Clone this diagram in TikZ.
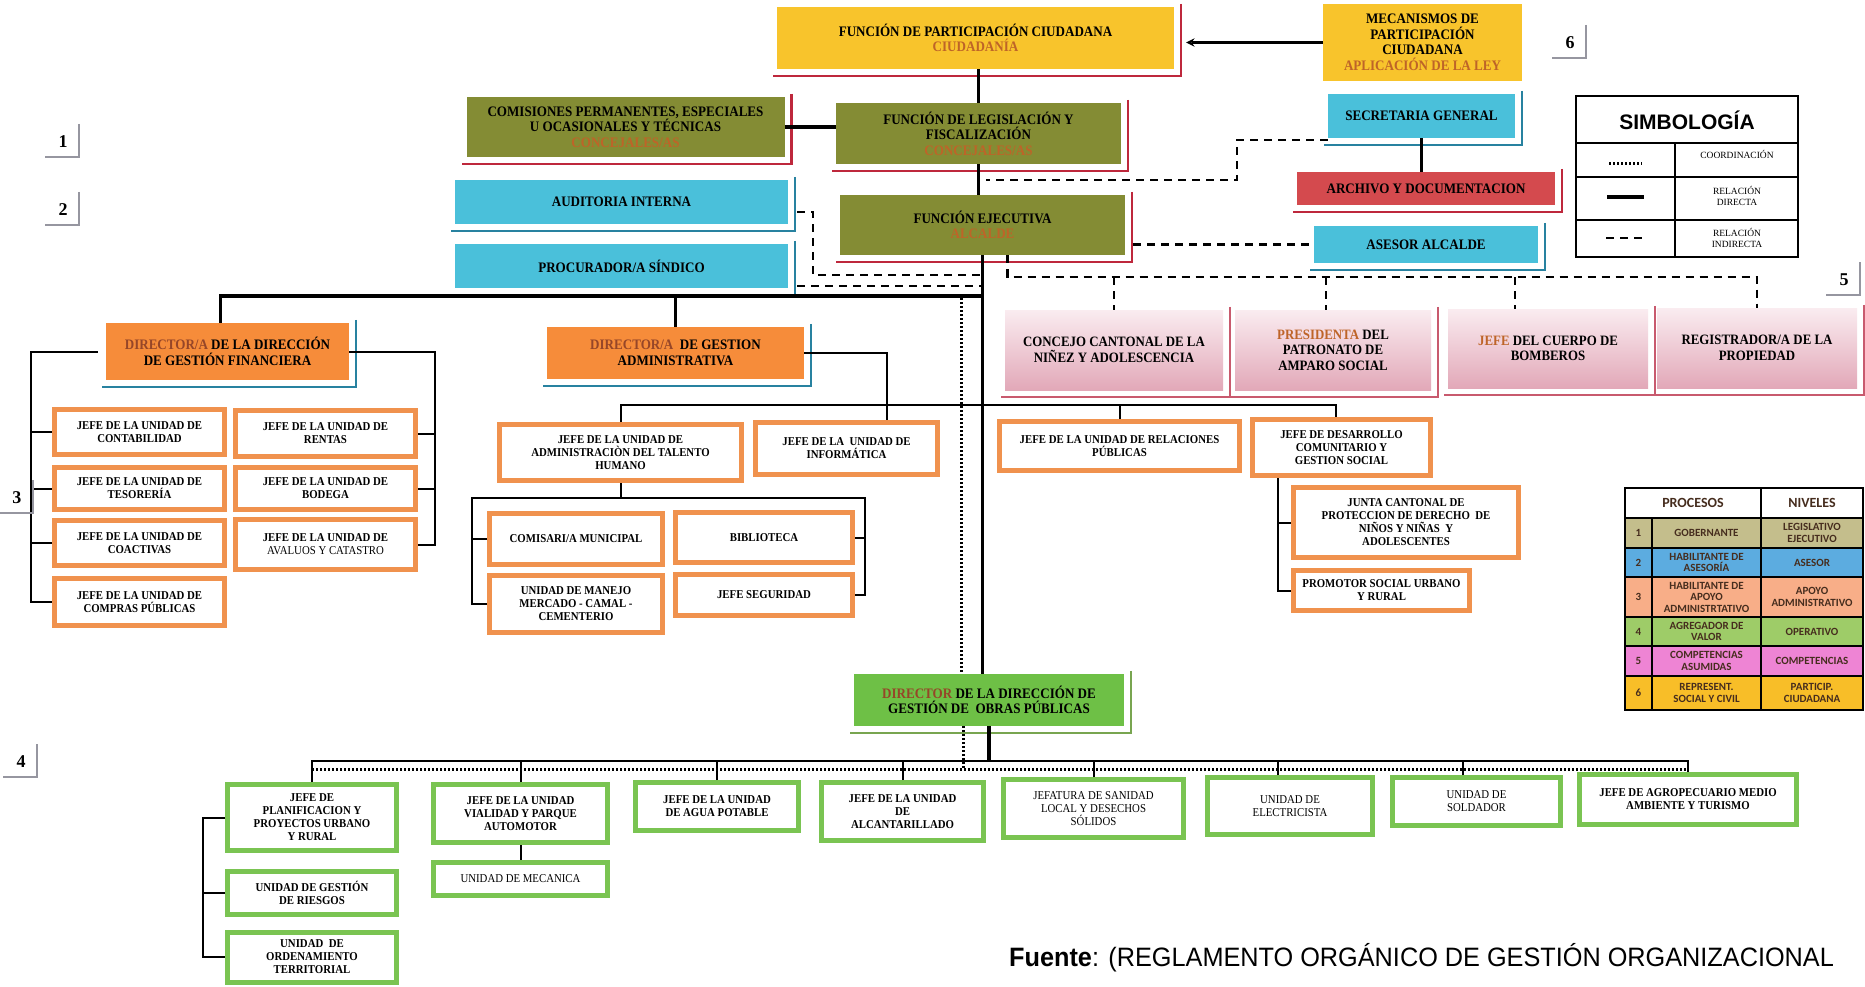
\documentclass[tikz,border=0pt]{standalone}
\usepackage{fontspec}
\usepackage{tikz}
\usepackage{xcolor}
\setmainfont{Liberation Serif}
\newfontfamily\cajafont[FakeStretch=0.9]{Liberation Serif}
\newfontfamily\tablafont{Carlito}
\newfontfamily\sansfont{Liberation Sans}
\newfontfamily\fuentefont[FakeStretch=0.95]{Liberation Sans}
\usetikzlibrary{arrows}
\definecolor{amarillo}{RGB}{248, 196, 44}
\definecolor{olivo}{RGB}{132, 140, 52}
\definecolor{cian}{RGB}{74, 192, 218}
\definecolor{rojo}{RGB}{212, 74, 78}
\definecolor{naranja}{RGB}{246, 140, 58}
\definecolor{verde}{RGB}{110, 192, 70}
\definecolor{bordenar}{RGB}{240, 146, 78}
\definecolor{bordever}{RGB}{122, 196, 82}
\definecolor{rosaA}{RGB}{250, 236, 240}
\definecolor{rosaB}{RGB}{226, 168, 184}
\definecolor{srojo}{RGB}{190, 40, 60}
\definecolor{scian}{RGB}{40, 130, 160}
\definecolor{sverde}{RGB}{120, 165, 80}
\definecolor{srosa}{RGB}{200, 90, 110}
\definecolor{cafe}{RGB}{190, 100, 40}
\definecolor{cafeo}{RGB}{150, 70, 40}
\definecolor{marcagris}{RGB}{150, 150, 160}
\definecolor{celdatxt}{RGB}{70, 45, 30}
\definecolor{pgob}{RGB}{196, 190, 140}
\definecolor{pase}{RGB}{92, 172, 224}
\definecolor{papo}{RGB}{248, 174, 136}
\definecolor{pagr}{RGB}{158, 204, 104}
\definecolor{pcomp}{RGB}{238, 132, 212}
\definecolor{ppart}{RGB}{248, 190, 40}
\tikzstyle{caja} = [
    rectangle,
    align=center,
    inner sep=1pt,
    font=\cajafont\bfseries\fontsize{14.5}{15.5}\selectfont
]
\tikzstyle{unidad} = [
    caja,
    draw=bordenar,
    line width=5pt,
    fill=white,
    font=\cajafont\bfseries\fontsize{12}{13}\selectfont
]
\tikzstyle{unidadv} = [unidad, draw=bordever]
\tikzstyle{regular} = [font=\cajafont\fontsize{12}{13}\selectfont]
\tikzstyle{rosada} = [
    caja,
    top color=rosaA,
    bottom color=rosaB,
    font=\cajafont\bfseries\fontsize{14.3}{15.5}\selectfont
]
\tikzstyle{troncal} = [line width=3.5pt]
\tikzstyle{rama} = [line width=2pt]
\tikzstyle{indirecta} = [line width=2.5pt, dash pattern=on 8pt off 6pt]
\tikzstyle{coordina} = [line width=3pt, dash pattern=on 2pt off 2pt]
\tikzstyle{flecha} = [line width=2.6pt, -stealth]
\tikzstyle{sombra} = [line width=2.5pt]
\tikzstyle{marca} = [line width=1.2pt, draw=marcagris]
\tikzstyle{nivel} = [font=\bfseries\fontsize{18}{18}\selectfont]
\tikzstyle{tabla} = [line width=1.6pt]
\tikzstyle{celda} = [
    align=center,
    inner sep=0pt,
    text=celdatxt,
    font=\tablafont\bfseries\fontsize{11}{11.5}\selectfont
]
\tikzstyle{leyenda} = [align=center, inner sep=0pt, font=\fontsize{9.5}{11}\selectfont]
\newcommand{\sombra}[2]{\draw[sombra,#2] ([xshift=7pt,yshift=3pt]#1.north east) |- ([xshift=-4pt,yshift=-7pt]#1.south west);}

\begin{document}
\begin{tikzpicture}[x=1pt, y=-1pt]
    \fill[white] (0,0) rectangle (1865,987);
    \useasboundingbox (0,0) rectangle (1865,987);

    % Nivel gobernante y participacion
    \node[caja, fill=amarillo, minimum width=397, minimum height=62] (partic) at (975.5,38)
        {FUNCIÓN DE PARTICIPACIÓN CIUDADANA\\\textcolor{cafe}{CIUDADANÍA}};
    \node[caja, fill=amarillo, minimum width=199, minimum height=77] (mecan) at (1422.5,42.5)
        {MECANISMOS DE\\PARTICIPACIÓN\\CIUDADANA\\\textcolor{cafe}{APLICACIÓN DE LA LEY}};
    \node[caja, fill=olivo, minimum width=318, minimum height=60] (comis) at (625.5,127)
        {COMISIONES PERMANENTES, ESPECIALES\\U OCASIONALES Y TÉCNICAS\\\textcolor{cafe}{CONCEJALES/AS}};
    \node[caja, fill=olivo, minimum width=285, minimum height=61] (legis) at (978.5,133.5)
        {FUNCIÓN DE LEGISLACIÓN Y\\FISCALIZACIÓN\\\textcolor{cafe}{CONCEJALES/AS}};
    \node[caja, fill=olivo, minimum width=285, minimum height=60] (ejec) at (982.5,225)
        {FUNCIÓN EJECUTIVA\\\textcolor{cafe}{ALCALDE}};

    % Asesoria
    \node[caja, fill=cian, minimum width=333, minimum height=44] (audit) at (621.5,202) {AUDITORIA INTERNA};
    \node[caja, fill=cian, minimum width=333, minimum height=44] (procu) at (621.5,266) {PROCURADOR/A SÍNDICO};
    \node[caja, fill=cian, minimum width=187, minimum height=44] (secre) at (1421.5,116) {SECRETARIA GENERAL};
    \node[caja, fill=rojo, minimum width=258, minimum height=33] (archi) at (1426,188.5) {ARCHIVO Y DOCUMENTACION};
    \node[caja, fill=cian, minimum width=224, minimum height=37] (asesor) at (1426,244.5) {ASESOR ALCALDE};

    % Competencias asumidas
    \node[rosada, minimum width=218, minimum height=80] (concejo) at (1114,350)
        {CONCEJO CANTONAL DE LA\\NIÑEZ Y ADOLESCENCIA};
    \node[rosada, minimum width=196, minimum height=80] (presid) at (1333,350)
        {\textcolor{cafe}{PRESIDENTA} DEL\\PATRONATO DE\\AMPARO SOCIAL};
    \node[rosada, minimum width=200, minimum height=79] (bomber) at (1548,348.5)
        {\textcolor{cafe}{JEFE} DEL CUERPO DE\\BOMBEROS};
    \node[rosada, minimum width=200, minimum height=80] (regis) at (1757,348)
        {REGISTRADOR/A DE LA\\PROPIEDAD};

    % Apoyo administrativo
    \node[caja, fill=naranja, minimum width=243, minimum height=57] (finan) at (227.5,351.5)
        {\textcolor{cafeo}{DIRECTOR/A} DE LA DIRECCIÓN\\DE GESTIÓN FINANCIERA};
    \node[caja, fill=naranja, minimum width=257, minimum height=52] (admin) at (675.5,353)
        {\textcolor{cafeo}{DIRECTOR/A}\ \ DE GESTION\\ADMINISTRATIVA};

    \node[unidad, minimum width=170, minimum height=45] (conta) at (139.5,432) {JEFE DE LA UNIDAD DE\\CONTABILIDAD};
    \node[unidad, minimum width=170, minimum height=42] (teso) at (139.5,488.5) {JEFE DE LA UNIDAD DE\\TESORERÍA};
    \node[unidad, minimum width=170, minimum height=45] (coact) at (139.5,543) {JEFE DE LA UNIDAD DE\\COACTIVAS};
    \node[unidad, minimum width=170, minimum height=47] (compras) at (139.5,602) {JEFE DE LA UNIDAD DE\\COMPRAS PÚBLICAS};
    \node[unidad, minimum width=180, minimum height=46] (rentas) at (325.5,433.5) {JEFE DE LA UNIDAD DE\\RENTAS};
    \node[unidad, minimum width=180, minimum height=42] (bodega) at (325.5,488.5) {JEFE DE LA UNIDAD DE\\BODEGA};
    \node[unidad, minimum width=180, minimum height=50] (avaluos) at (325.5,544.5) {JEFE DE LA UNIDAD DE\\{\mdseries AVALUOS Y CATASTRO}};

    \node[unidad, minimum width=242, minimum height=56] (talento) at (620.5,452.5)
        {JEFE DE LA UNIDAD DE\\ADMINISTRACIÒN DEL TALENTO\\HUMANO};
    \node[unidad, minimum width=182, minimum height=52] (inform) at (846.5,448.5) {JEFE DE LA\ \ UNIDAD DE\\INFORMÁTICA};
    \node[unidad, minimum width=173, minimum height=51] (comisa) at (576,539) {COMISARI/A MUNICIPAL};
    \node[unidad, minimum width=177, minimum height=50] (biblio) at (764,537.5) {BIBLIOTECA};
    \node[unidad, minimum width=173, minimum height=57] (manejo) at (576,604) {UNIDAD DE MANEJO\\MERCADO - CAMAL -\\CEMENTERIO};
    \node[unidad, minimum width=177, minimum height=41] (segur) at (764,595) {JEFE SEGURIDAD};

    \node[unidad, minimum width=240, minimum height=49] (relac) at (1119.5,446) {JEFE DE LA UNIDAD DE RELACIONES\\PÚBLICAS};
    \node[unidad, minimum width=178, minimum height=56] (desar) at (1341.5,447.5) {JEFE DE DESARROLLO\\COMUNITARIO Y\\GESTION SOCIAL};
    \node[unidad, minimum width=225, minimum height=70] (junta) at (1406,522.5)
        {JUNTA CANTONAL DE\\PROTECCION DE DERECHO\ \ DE\\NIÑOS Y NIÑAS\ \ Y\\ADOLESCENTES};
    \node[unidad, minimum width=176, minimum height=40] (promo) at (1381.5,590.5) {PROMOTOR SOCIAL URBANO\\Y RURAL};

    % Agregador de valor
    \node[caja, fill=verde, minimum width=270, minimum height=52] (obras) at (989,700)
        {\textcolor{cafeo}{DIRECTOR} DE LA DIRECCIÓN DE\\GESTIÓN DE\ \ OBRAS PÚBLICAS};
    \node[unidadv, minimum width=169, minimum height=66] (planif) at (312,817.5) {JEFE DE\\PLANIFICACION Y\\PROYECTOS URBANO\\Y RURAL};
    \node[unidadv, minimum width=174, minimum height=58] (vialid) at (520.5,813.5) {JEFE DE LA UNIDAD\\VIALIDAD Y PARQUE\\AUTOMOTOR};
    \node[unidadv, minimum width=163, minimum height=48] (agua) at (717,806.5) {JEFE DE LA UNIDAD\\DE AGUA POTABLE};
    \node[unidadv, minimum width=162, minimum height=58] (alcant) at (902.5,811.5) {JEFE DE LA UNIDAD\\DE\\ALCANTARILLADO};
    \node[unidadv, regular, minimum width=180, minimum height=58] (sanid) at (1093.5,808.5)
        {JEFATURA DE SANIDAD\\LOCAL Y DESECHOS\\SÓLIDOS};
    \node[unidadv, regular, minimum width=165, minimum height=57] (elect) at (1290,806) {UNIDAD DE\\ELECTRICISTA};
    \node[unidadv, regular, minimum width=168, minimum height=48] (solda) at (1476.5,801.5) {UNIDAD DE\\SOLDADOR};
    \node[unidadv, minimum width=217, minimum height=50] (agrop) at (1688,799.5) {JEFE DE AGROPECUARIO MEDIO\\AMBIENTE Y TURISMO};
    \node[unidadv, minimum width=169, minimum height=43] (riesg) at (312,893) {UNIDAD DE GESTIÓN\\DE RIESGOS};
    \node[unidadv, minimum width=169, minimum height=50] (orden) at (312,957) {UNIDAD\ \ DE\\ORDENAMIENTO\\TERRITORIAL};
    \node[unidadv, regular, minimum width=174, minimum height=33] (mecanica) at (520.5,879) {UNIDAD DE MECANICA};

    % Sombras
    \foreach \b in {partic,comis,legis,ejec,archi} {\sombra{\b}{srojo}}
    \foreach \b in {audit,procu,secre,asesor,finan,admin} {\sombra{\b}{scian}}
    \sombra{obras}{sverde}
    \foreach \b in {concejo,presid,bomber,regis} {\sombra{\b}{srosa,line width=2pt}}

    % Relaciones directas
    \draw[troncal] (legis.north |- partic.south) -- (legis.north);
    \draw[troncal] (comis.east) -- (comis.east -| legis.west);
    \draw[troncal] (legis.south) -- (legis.south |- ejec.north);
    \draw[troncal] (secre.south) -- (secre.south |- archi.north);
    \draw[flecha] (mecan.west) -- ([xshift=12pt]partic.east |- mecan.west);
    \draw[troncal] (ejec.south) -- (ejec.south |- obras.north);
    \coordinate (h1) at (982.5,296);
    \draw[troncal] ([xshift=-7pt]finan.north) |- (h1);
    \draw[troncal] (admin.north) -- (admin.north |- h1);

    % Relaciones indirectas
    \coordinate (ls) at (986,180);
    \draw[indirecta] ([yshift=-24pt]secre.west) -- ++(-91,0) |- (ls);
    \draw[indirecta] ([xshift=8pt]ejec.east |- asesor.west) -- (asesor.west);
    \coordinate (ai) at (813,275);
    \draw[indirecta] ([xshift=9pt,yshift=-10pt]audit.east) -| (ai) -- (ai -| ejec.south);
    \draw[indirecta] ([xshift=9pt,yshift=-20pt]procu.east) -- ([yshift=-20pt]procu.east -| ejec.south);
    \coordinate (dp) at (1007,277);
    \draw[indirecta] ([xshift=25pt]ejec.south) |- (regis.north |- dp) -- (regis.north);
    \draw[indirecta] (concejo.north |- dp) -- (concejo.north);
    \draw[indirecta] ([xshift=-7pt]presid.north |- dp) -- ([xshift=-7pt]presid.north);
    \draw[indirecta] ([xshift=-33pt]bomber.north |- dp) -- ([xshift=-33pt]bomber.north);

    % Coordinacion
    \coordinate (pc) at (961,298);
    \draw[coordina] (pc) -- (pc |- obras.north);

    % Direccion financiera
    \coordinate (fl) at (31,351.5);
    \coordinate (fr) at (435,351.5);
    \draw[rama] ([xshift=-8pt]finan.west) -- (fl) |- (compras.west);
    \foreach \n in {conta,teso,coact} \draw[rama] (\n.west) -- (\n.west -| fl);
    \draw[rama] (finan.east) -- (fr) |- (avaluos.east);
    \foreach \n in {rentas,bodega} \draw[rama] (\n.east) -- (\n.east -| fr);

    % Direccion administrativa
    \draw[rama] (admin.east) -| ([xshift=40pt]inform.north);
    \coordinate (h2) at (982.5,405);
    \draw[rama] (talento.north) |- ([xshift=-6pt]desar.north |- h2) -- ([xshift=-6pt]desar.north);
    \draw[rama] (relac.north) -- (relac.north |- h2);
    \coordinate (tl) at (472,498);
    \coordinate (tr) at (865,498);
    \draw[rama] (talento.south) -- (talento.south |- tl);
    \draw[rama] (manejo.west) -| (tl) -- (tr) |- (segur.east);
    \draw[rama] (comisa.west) -- (comisa.west -| tl);
    \draw[rama] (biblio.east) -- (biblio.east -| tr);
    \coordinate (dl) at (1278,478);
    \draw[rama] (dl) |- (promo.west);
    \draw[rama] (junta.west) -- (junta.west -| dl);

    % Obras publicas
    \coordinate (hs) at (989,761);
    \coordinate (hd) at (963,769);
    \draw[troncal] (obras.south) -- (hs);
    \draw[coordina] (obras.south -| hd) -- (hd);
    \draw[rama] (planif.north) |- (agrop.north |- hs) -- (agrop.north);
    \foreach \n in {vialid,agua,alcant,sanid} \draw[rama] (\n.north) -- (\n.north |- hs);
    \draw[rama] ([xshift=-12pt]elect.north) -- ([xshift=-12pt]elect.north |- hs);
    \draw[rama] ([xshift=-14pt]solda.north) -- ([xshift=-14pt]solda.north |- hs);
    \draw[coordina] (planif.north |- hd) -- (agrop.north |- hd);
    \coordinate (pl) at (203,817.5);
    \draw[rama] (planif.west) -- (pl) |- (orden.west);
    \draw[rama] (riesg.west) -- (riesg.west -| pl);
    \draw[rama] (vialid.south) -- (mecanica.north);

    % Niveles
    \node[nivel] (n1) at (63,142) {1};
    \node[nivel] (n2) at (63,210) {2};
    \node[nivel] (n3) at (17,498) {3};
    \node[nivel] (n4) at (21,762) {4};
    \node[nivel] (n5) at (1844,280) {5};
    \node[nivel] (n6) at (1570,43) {6};
    \foreach \n in {n1,n2,n3,n4,n5,n6}
        \draw[marca] ([xshift=16pt,yshift=18pt]\n.center) |- ([xshift=-18pt,yshift=-15pt]\n.center);

    % Simbologia
    \draw[tabla] (1576,96) rectangle (1798,257);
    \draw[tabla] (1576,143) -- (1798,143) (1576,177) -- (1798,177) (1576,220) -- (1798,220) (1675,143) -- (1675,257);
    \node[font=\sansfont\bfseries\fontsize{21}{21}\selectfont] (simb) at (1687,120) {SIMBOLOGÍA};
    \draw[coordina] (1609,164) -- (1642,164);
    \draw[troncal] (1607,197) -- (1644,197);
    \draw[indirecta] (1606,238) -- (1646,238);
    \node[leyenda] (s1) at (1737,154) {COORDINACIÓN};
    \node[leyenda] (s2) at (1737,196) {RELACIÓN\\DIRECTA};
    \node[leyenda] (s3) at (1737,238) {RELACIÓN\\INDIRECTA};

    % Procesos y niveles
    \draw[tabla] (1625,488) rectangle (1863,518) (1761,488) -- (1761,518);
    \node[celda, font=\tablafont\bfseries\fontsize{14}{15}\selectfont] (proc) at (1693,503) {PROCESOS};
    \node[celda, font=\tablafont\bfseries\fontsize{14}{15}\selectfont] (niv) at (1812,503) {NIVELES};
    \foreach \ya/\yb/\col/\nn/\pr/\nv in {
        518/548/pgob/1/GOBERNANTE/{LEGISLATIVO\\EJECUTIVO},
        548/577/pase/2/{HABILITANTE DE\\ASESORÍA}/ASESOR,
        577/617/papo/3/{HABILITANTE DE\\APOYO\\ADMINISTRTATIVO}/{APOYO\\ADMINISTRATIVO},
        617/646/pagr/4/{AGREGADOR DE\\VALOR}/OPERATIVO,
        646/676/pcomp/5/{COMPETENCIAS\\ASUMIDAS}/COMPETENCIAS,
        676/710/ppart/6/{REPRESENT.\\SOCIAL Y CIVIL}/{PARTICIP.\\CIUDADANA}} {
        \fill[\col] (1625,\ya) rectangle (1863,\yb);
        \draw[tabla] (1625,\ya) rectangle (1652,\yb) (1652,\ya) rectangle (1761,\yb) (1761,\ya) rectangle (1863,\yb);
        \node[celda] (pn\nn) at (1638.5,{(\ya+\yb)/2}) {\nn};
        \node[celda] (pp\nn) at (1706.5,{(\ya+\yb)/2}) {\pr};
        \node[celda] (pv\nn) at (1812,{(\ya+\yb)/2}) {\nv};
    }

    % Fuente
    \node[anchor=west, inner sep=0pt, font=\fuentefont\fontsize{26.6}{27}\selectfont] (fuente) at (1009,958)
        {\textbf{Fuente}: (REGLAMENTO ORGÁNICO DE GESTIÓN ORGANIZACIONAL};
\end{tikzpicture}
\end{document}
